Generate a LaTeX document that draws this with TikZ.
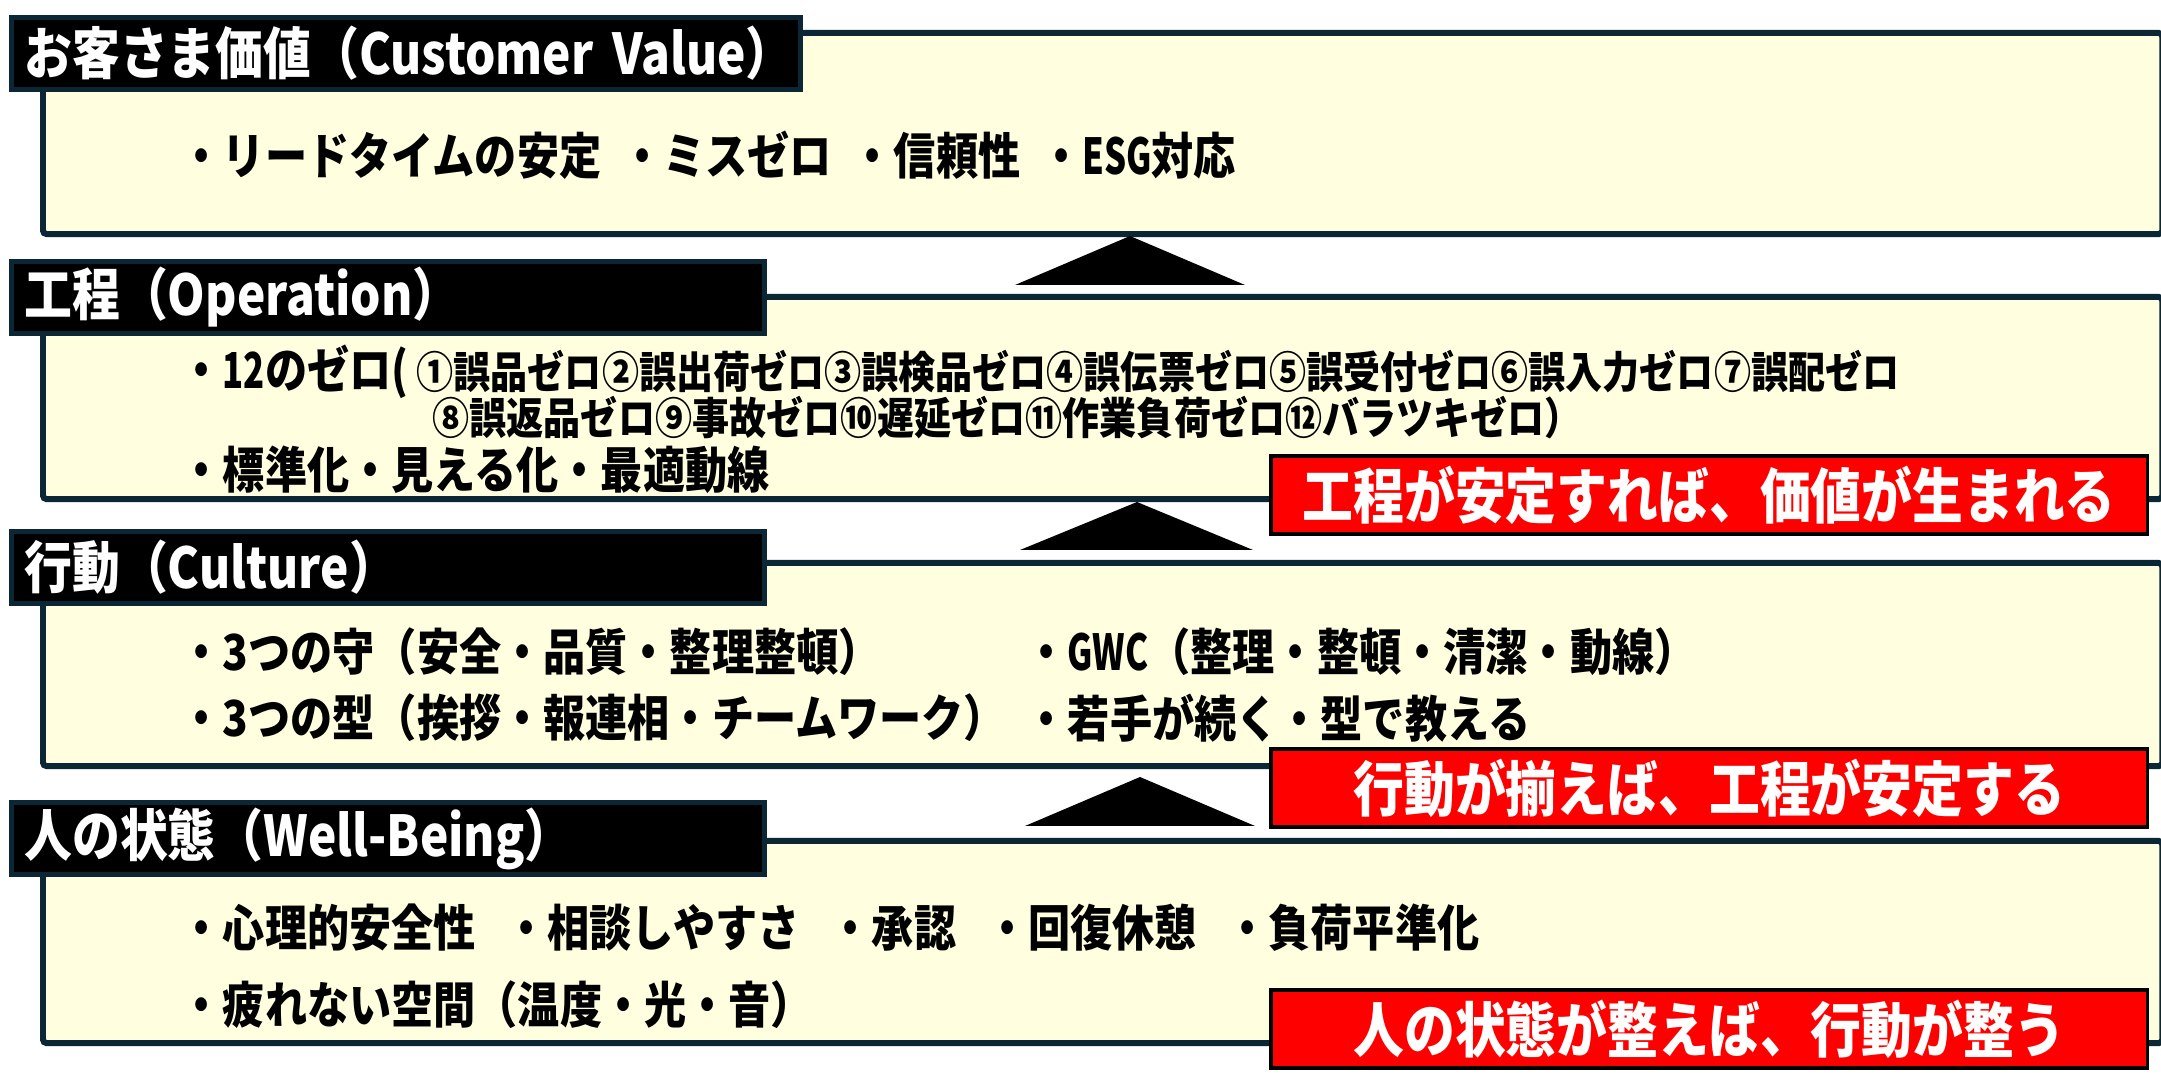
\documentclass[tikz,border=0pt]{standalone}
\usepackage{fontspec}
\setmainfont{Noto Sans CJK JP}[FakeStretch=0.85]
\newfontfamily\slimfont{Noto Sans CJK JP}[FakeStretch=0.7]
\usepackage{tikz}
\definecolor{edgeblue}{HTML}{0B2634}
\definecolor{cream}{HTML}{FFFFE0}
\definecolor{alertred}{HTML}{FF0000}
\newcommand\slimtext[1]{{\slimfont #1}}

\begin{document}
\begin{tikzpicture}
[x=0.01cm, y=-0.01cm,
layer/.style={rectangle, draw=edgeblue, fill=cream, line width=1.7pt, rounded corners=1pt, minimum width=21.18cm, inner sep=0pt, anchor=north west},
title/.style={rectangle, draw=edgeblue, fill=black, line width=1.4pt, text=white, font=\bfseries\fontsize{16pt}{18pt}\selectfont, inner xsep=0.13cm, inner ysep=0pt, minimum height=0.72cm, align=left, anchor=north west},
item/.style={anchor=west, inner sep=0pt, font=\bfseries\fontsize{14.1pt}{16pt}\selectfont},
small/.style={item, font=\bfseries\fontsize{12.4pt}{14pt}\selectfont},
note/.style={rectangle, draw=black, fill=alertred, line width=1.1pt, text=white, font=\bfseries\fontsize{17pt}{19pt}\selectfont, minimum width=8.76cm, minimum height=0.78cm, inner sep=0pt, anchor=north west},
step arrow/.style={fill=black},]
\useasboundingbox (0,0) rectangle (2161,1092);

% customer value
\node (valbox) [layer, minimum height=2.01cm] at (40,30) {};
\node (valhead) [title, text width=7.63cm] at (9,15) {\mbox{お客さま価値（Customer Value）}};
\node (valtext) [item] at (180,155) {・リードタイムの安定\hspace{0.4em}・ミスゼロ\hspace{0.4em}・信頼性\hspace{0.4em}・\slimtext{ESG}対応};

\fill [step arrow] (1130,236) -- (1245,285) -- (1015,285) -- cycle;

% operation
\node (opbox) [layer, minimum height=2.02cm] at (40,294) {};
\node (ophead) [title, text width=7.27cm] at (9,259) {\mbox{工程（Operation）}};
\node (opzero) [item] at (180,372) {・\slimtext{12}のゼロ(};
\node (oplistA) [small] at (416,372) {①誤品ゼロ②誤出荷ゼロ③誤検品ゼロ④誤伝票ゼロ⑤誤受付ゼロ⑥誤入力ゼロ⑦誤配ゼロ};
\node (oplistB) [small] at (432,418) {⑧誤返品ゼロ⑨事故ゼロ⑩遅延ゼロ⑪作業負荷ゼロ⑫バラツキゼロ）};
\node (opstd) [item] at (180,470) {・標準化・見える化・最適動線};
\node (opnote) [note] at (1269,454) {工程が安定すれば、価値が生まれる};

\fill [step arrow] (1137,502) -- (1253,550) -- (1020,550) -- cycle;

% culture
\node (cultbox) [layer, minimum height=2.03cm] at (40,560) {};
\node (culthead) [title, text width=7.27cm] at (9,529) {\mbox{行動（Culture）}};
\node (cultA) [item] at (180,652) {・3つの守（安全・品質・整理整頓）};
\node (cultB) [item] at (1025,652) {・\slimtext{GWC}（整理・整頓・清潔・動線）};
\node (cultC) [item] at (180,718) {・3つの型（挨拶・報連相・チームワーク）};
\node (cultD) [item] at (1025,718) {・若手が続く・型で教える};
\node (cultnote) [note] at (1269,747) {行動が揃えば、工程が安定する};

\fill [step arrow] (1140,777) -- (1255,826) -- (1025,826) -- cycle;

% well-being
\node (wellbox) [layer, minimum height=2.02cm] at (40,838) {};
\node (wellhead) [title, text width=7.27cm] at (9,800) {\mbox{人の状態（Well-Being）}};
\node (wellA) [item] at (180,928) {・心理的安全性\hspace{0.6em}・相談しやすさ\hspace{0.6em}・承認\hspace{0.6em}・回復休憩\hspace{0.6em}・負荷平準化};
\node (wellB) [item] at (180,1005) {・疲れない空間（温度・光・音）};
\node (wellnote) [note] at (1269,988) {人の状態が整えば、行動が整う};

\end{tikzpicture}
\end{document}
